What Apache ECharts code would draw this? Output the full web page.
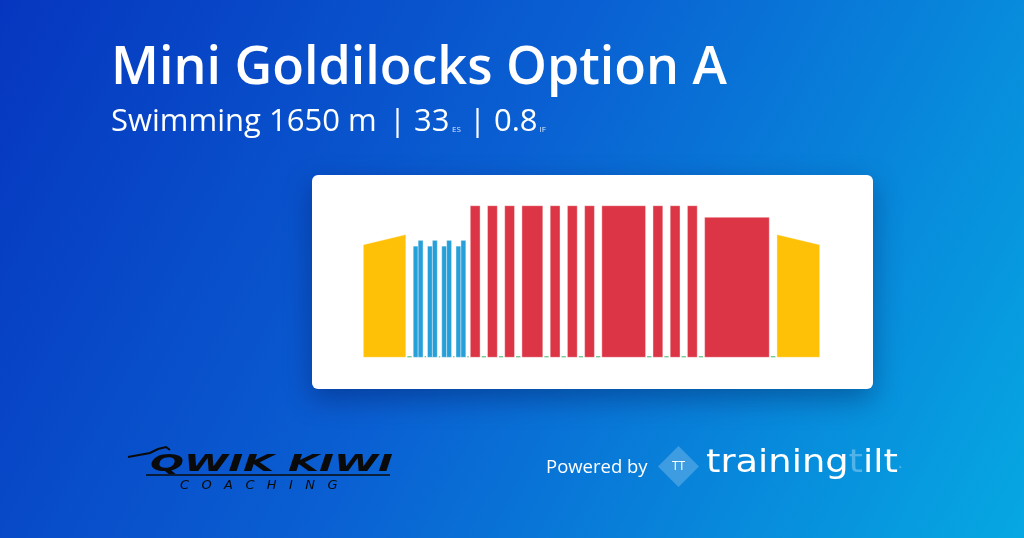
<!DOCTYPE html>
<html><head><meta charset="utf-8">
<script src="https://cdn.jsdelivr.net/npm/echarts@6/dist/echarts.min.js"></script>
<style>html,body{margin:0;padding:0;width:1024px;height:538px;overflow:hidden;background:#0a5fd2}#c{width:1024px;height:538px}</style>
</head><body><div id="c"></div>
<script>
// ---- workout data (time in seconds, intensity in % of threshold) ----
const stepKind = ['warm','rest',
  'tempo','tempo2','rest','tempo','tempo2','rest','tempo','tempo2','rest','tempo','tempo2','rest',
  'hard','rest','hard','rest','hard','rest','hard','rest',
  'hard','rest','hard','rest','hard','rest','hard','rest',
  'hard','rest','hard','rest','hard','rest','hard2','rest','cool'];
const stepSeconds = [173, 30,
  20, 20, 18, 20, 20, 18, 20, 20, 18, 20, 20, 18,
  40, 30, 40, 30, 40, 30, 85, 30,
  40, 30, 40, 30, 40, 30, 178, 30,
  40, 30, 40, 30, 40, 30, 263, 31, 174];
const stepStartIntensity = [78, 0,
  77, 81, 0, 77, 81, 0, 77, 81, 0, 77, 81, 0,
  105, 0, 105, 0, 105, 0, 105, 0,
  105, 0, 105, 0, 105, 0, 105, 0,
  105, 0, 105, 0, 105, 0, 97, 0, 85];
const stepEndIntensity = [85, 0,
  77, 81, 0, 77, 81, 0, 77, 81, 0, 77, 81, 0,
  105, 0, 105, 0, 105, 0, 105, 0,
  105, 0, 105, 0, 105, 0, 105, 0,
  105, 0, 105, 0, 105, 0, 97, 0, 78];

const titleText = 'Mini Goldilocks Option A';
const subtitleMain = 'Swimming 1650 m';
const esValue = '33';
const ifValue = '0.8';

const zoneColor = {warm:'#ffc107', cool:'#ffc107', tempo:'#279fd9', tempo2:'#279fd9', hard:'#dc3545', hard2:'#dc3545', rest:'#3fb56c'};

// build series data from the arrays
const seriesData = [];
let t = 0;
for (let i = 0; i < stepSeconds.length; i++) {
  seriesData.push([t, t + stepSeconds[i], stepStartIntensity[i], stepEndIntensity[i]]);
  t += stepSeconds[i];
}
const totalSeconds = t;

function renderItem(params, api) {
  const kind = stepKind[params.dataIndex];
  const x0 = api.value(0), x1 = api.value(1);
  const b0 = api.coord([x0, 0]), b1 = api.coord([x1, 0]);
  if (kind === 'rest') {
    return {type:'rect', shape:{x:b0[0] + 1.5, y:b0[1] - 1, width:Math.max(0, b1[0] - b0[0] - 3), height:1},
      style:{fill:zoneColor.rest}};
  }
  const t0 = api.coord([x0, api.value(2)]), t1 = api.coord([x1, api.value(3)]);
  return {type:'polygon', shape:{points:[b0, t0, t1, b1]},
    style:{fill:zoneColor[kind], stroke:'rgba(255,255,255,0.4)', lineWidth:1}};
}

const chart = echarts.init(document.getElementById('c'), null, {renderer:'canvas'});
const FONT = "'Open Sans', 'Noto Sans', sans-serif";
chart.setOption({
  animation:false,
  backgroundColor: new echarts.graphic.LinearGradient(0, 0, 1, 1, [
    {offset:0, color:'#0636bf'}, {offset:0.45, color:'#0a5fd2'}, {offset:1, color:'#06a8e2'}]),
  grid:{left:363.3, right:204.3, top:205.7, bottom:180.7},
  xAxis:{type:'value', min:0, max:totalSeconds, show:false},
  yAxis:{type:'value', min:0, max:105, show:false},
  series:[{type:'custom', renderItem:renderItem, data:seriesData, encode:{x:[0,1], y:[2,3]}, clip:false, z:5}],
  graphic:[
    {type:'rect', z:1, shape:{x:312, y:175, width:561, height:214, r:6},
      style:{fill:'#ffffff', shadowBlur:28, shadowOffsetY:10, shadowColor:'rgba(0,10,60,0.35)'}},
    {type:'text', z:3, style:{text:titleText, x:111, y:69.5, fill:'#ffffff', font:"600 52px " + FONT, textVerticalAlign:'middle'}},
    {type:'text', z:3, style:{text:subtitleMain, x:111, y:122, fill:'#ffffff', font:"400 31px " + FONT, textVerticalAlign:'middle'}},
    {type:'text', z:3, style:{text:'|', x:389, y:122, fill:'#ffffff', font:"400 31px " + FONT, textVerticalAlign:'middle'}},
    {type:'text', z:3, style:{text:esValue, x:414, y:122, fill:'#ffffff', font:"400 31px " + FONT, textVerticalAlign:'middle'}},
    {type:'text', z:3, style:{text:'ES', x:452, y:130, fill:'rgba(255,255,255,0.85)', font:"400 8px " + FONT, textVerticalAlign:'middle'}},
    {type:'text', z:3, style:{text:'|', x:469, y:122, fill:'#ffffff', font:"400 31px " + FONT, textVerticalAlign:'middle'}},
    {type:'text', z:3, style:{text:ifValue, x:494, y:122, fill:'#ffffff', font:"400 31px " + FONT, textVerticalAlign:'middle'}},
    {type:'text', z:3, style:{text:'IF', x:539.5, y:130, fill:'rgba(255,255,255,0.85)', font:"400 8px " + FONT, textVerticalAlign:'middle'}},
    // Qwik Kiwi logo
    {type:'polyline', z:3, shape:{points:[[128,457],[150,453],[158,449],[166,447],[170,450]]}, style:{stroke:'#0a0a0a', lineWidth:2, fill:null}},
    {type:'text', z:3, x:150, y:465, scaleX:1.74, style:{text:'QWIK KIWI', x:0, y:0, fill:'#0a0a0a', font:"italic 900 23px 'DejaVu Sans', sans-serif", textVerticalAlign:'middle'}},
    {type:'line', z:3, shape:{x1:146, y1:475, x2:390, y2:475}, style:{stroke:'#0a0a0a', lineWidth:1.5}},
    {type:'text', z:3, style:{text:'C   O   A   C   H   I   N   G', x:180, y:486, fill:'#0a0a0a', font:"italic 400 13px 'DejaVu Sans', sans-serif", textVerticalAlign:'middle'}},
    // Powered by trainingtilt
    {type:'text', z:3, style:{text:'Powered by', x:546, y:467.5, fill:'#ffffff', font:"400 18.5px " + FONT, textVerticalAlign:'middle'}},
    {type:'polygon', z:3, shape:{points:[[678.5,446],[699,466.5],[678.5,487],[658,466.5]]}, style:{fill:'rgba(255,255,255,0.22)'}},
    {type:'text', z:4, style:{text:'TT', x:678.5, y:466.5, fill:'#ffffff', font:"400 12px " + FONT, textAlign:'center', textVerticalAlign:'middle'}},
    {type:'text', z:3, x:706, y:464, scaleX:1.15, style:{
      text:'{a|training}{b|t}{a|ilt}{c|.}', x:0, y:0, textVerticalAlign:'middle',
      rich:{a:{fill:'#ffffff', font:"400 32px 'DejaVu Sans', sans-serif"},
            b:{fill:'rgba(255,255,255,0.3)', font:"400 32px 'DejaVu Sans', sans-serif"},
            c:{fill:'rgba(255,255,255,0.3)', font:"400 14px 'DejaVu Sans', sans-serif"}}}}
  ]
});
</script></body></html>
